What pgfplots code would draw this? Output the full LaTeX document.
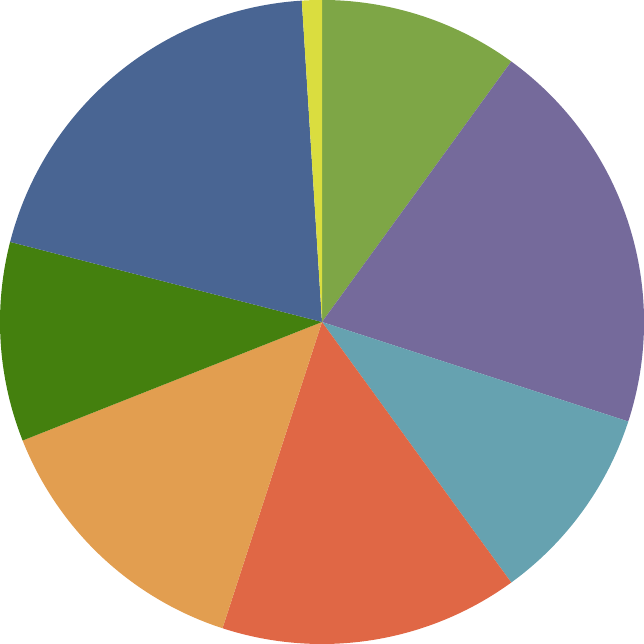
\documentclass[border=0pt]{standalone}
\usepackage{pgfplots}
\usepackage{pgfplotstable}
\pgfplotsset{compat=1.18}

\definecolor{c1}{HTML}{7EA646}
\definecolor{c2}{HTML}{756A9B}
\definecolor{c3}{HTML}{66A2B0}
\definecolor{c4}{HTML}{E06745}
\definecolor{c5}{HTML}{E29E50}
\definecolor{c6}{HTML}{44800E}
\definecolor{c7}{HTML}{496593}
\definecolor{c8}{HTML}{DADD3F}

% share of each slice (percent), clockwise from the top
\pgfplotstableread{
share color
10 c1
20 c2
10 c3
15 c4
14 c5
10 c6
20 c7
1  c8
}\piedata

\begin{document}
\begin{tikzpicture}
\begin{axis}[
    hide axis,
    scale only axis,
    width=10cm, height=10cm,
    xmin=-1, xmax=1,
    ymin=-1, ymax=1,
    clip=false,
]
    \pgfplotstablegetrowsof{\piedata}
    \pgfmathtruncatemacro{\last}{\pgfplotsretval-1}
    \gdef\cum{90}
    \foreach \i in {0,...,\last}{
        \pgfplotstablegetelem{\i}{share}\of\piedata \let\v\pgfplotsretval
        \pgfplotstablegetelem{\i}{color}\of\piedata \let\c\pgfplotsretval
        \pgfmathsetmacro{\e}{\cum - 3.6*\v}
        \edef\temp{\noexpand\fill[\c] (axis cs:0,0) -- (axis cs:{cos(\cum)},{sin(\cum)})
            arc[start angle=\cum, end angle=\e, radius=1] -- cycle;}
        \temp
        \xdef\cum{\e}
    }
\end{axis}
\pgfresetboundingbox
\path[use as bounding box] (current axis.south west) rectangle (current axis.north east);
\end{tikzpicture}
\end{document}
